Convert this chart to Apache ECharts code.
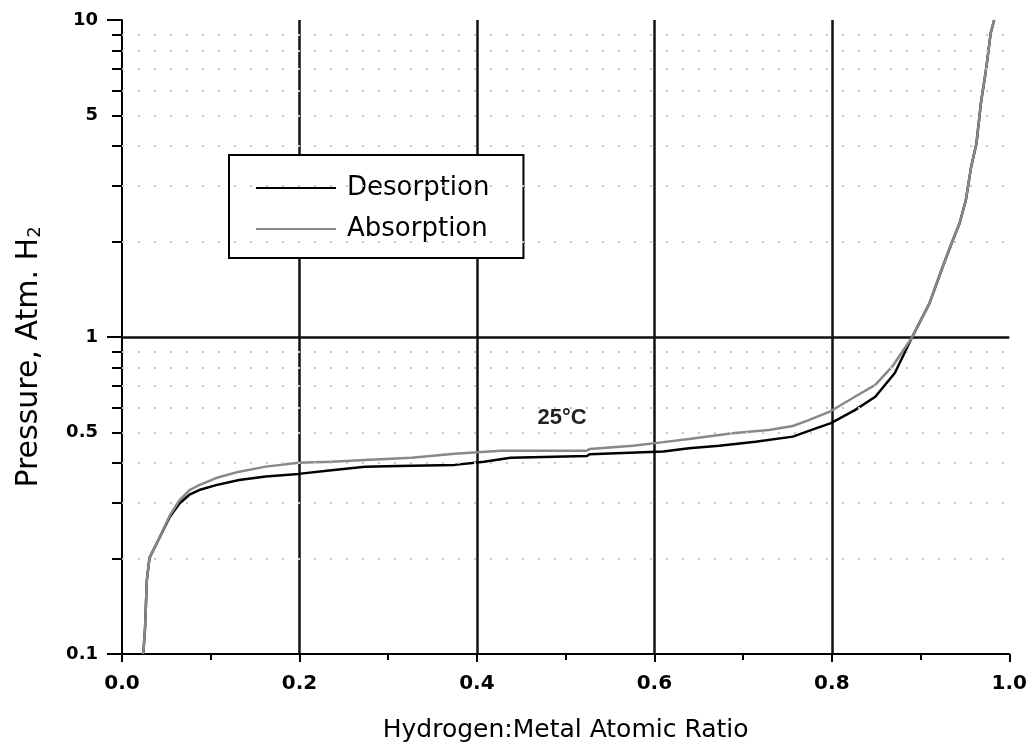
<!DOCTYPE html>
<html>
<head>
<meta charset="utf-8">
<script src="https://cdn.jsdelivr.net/npm/echarts@6/dist/echarts.min.js"></script>
<style>
html,body{margin:0;padding:0;background:#fff;}
#c{width:1030px;height:754px;}
</style>
</head>
<body>
<div id="c"></div>
<script>
// ---- data ----
const seriesNames = ['Desorption', 'Absorption'];

const desorptionX = [0.024, 0.026, 0.028, 0.031, 0.041, 0.054, 0.065, 0.076, 0.087, 0.106, 0.132, 0.162, 0.199, 0.236, 0.274, 0.311, 0.375, 0.408, 0.438, 0.524, 0.527, 0.610, 0.639, 0.673, 0.714, 0.756, 0.782, 0.799, 0.826, 0.849, 0.871, 0.890, 0.910, 0.925, 0.935, 0.944, 0.951, 0.957, 0.963, 0.968, 0.974, 0.979, 0.983];
const desorptionY = [0.100, 0.121, 0.171, 0.201, 0.229, 0.271, 0.299, 0.318, 0.329, 0.341, 0.354, 0.363, 0.370, 0.380, 0.390, 0.392, 0.395, 0.404, 0.416, 0.421, 0.427, 0.435, 0.446, 0.454, 0.467, 0.485, 0.515, 0.535, 0.588, 0.648, 0.770, 0.993, 1.277, 1.666, 1.975, 2.284, 2.70, 3.44, 4.08, 5.46, 7.04, 9.08, 10.0];

const absorptionX = [0.024, 0.026, 0.028, 0.031, 0.041, 0.054, 0.065, 0.076, 0.087, 0.106, 0.132, 0.162, 0.199, 0.236, 0.274, 0.326, 0.375, 0.427, 0.524, 0.527, 0.576, 0.610, 0.639, 0.688, 0.729, 0.756, 0.774, 0.799, 0.826, 0.849, 0.868, 0.890, 0.910, 0.925, 0.935, 0.944, 0.951, 0.957, 0.963, 0.968, 0.974, 0.979, 0.983];
const absorptionY = [0.100, 0.121, 0.171, 0.201, 0.229, 0.274, 0.306, 0.329, 0.341, 0.359, 0.376, 0.390, 0.401, 0.404, 0.409, 0.416, 0.428, 0.438, 0.438, 0.443, 0.454, 0.466, 0.477, 0.497, 0.509, 0.524, 0.547, 0.584, 0.648, 0.706, 0.806, 0.993, 1.277, 1.666, 1.975, 2.284, 2.70, 3.44, 4.08, 5.46, 7.04, 9.08, 10.0];

const yLabelValues = [0.1, 0.5, 1, 5, 10];
const yMinorValues = [0.2, 0.3, 0.4, 0.5, 0.6, 0.7, 0.8, 0.9, 2, 3, 4, 5, 6, 7, 8, 9];
const annotationText = '25°C';
const annotationAt = [0.496, 0.555];

// ---- build ----
const pairs = (xs, ys) => xs.map((x, i) => [x, ys[i]]);
const chart = echarts.init(document.getElementById('c'));

const option = {
  animation: false,
  backgroundColor: '#fff',
  grid: { left: 122, right: 15, top: 20, bottom: 100 },
  legend: {
    data: seriesNames,
    orient: 'vertical',
    left: 229, top: 155,
    icon: 'rect',
    itemWidth: 80, itemHeight: 2, itemGap: 15,
    padding: [20, 34, 16, 27],
    borderColor: '#000', borderWidth: 2, backgroundColor: '#fff',
    textStyle: { fontFamily: 'DejaVu Sans', fontSize: 26, color: '#000', padding: [0, 0, 0, 6] },
    selectedMode: false
  },
  xAxis: {
    type: 'value', min: 0, max: 1, interval: 0.2,
    name: 'Hydrogen:Metal Atomic Ratio', nameLocation: 'middle', nameGap: 64,
    nameTextStyle: { fontFamily: 'DejaVu Sans', fontSize: 25, color: '#000' },
    axisLine: { show: true, onZero: false, lineStyle: { color: '#000', width: 2 } },
    axisTick: { show: true, length: 8, lineStyle: { color: '#000', width: 2 } },
    minorTick: { show: true, splitNumber: 2, length: 6, lineStyle: { color: '#000', width: 2 } },
    axisLabel: { margin: 20, fontFamily: 'DejaVu Sans', fontWeight: 'bold', fontSize: 20, color: '#000',
                 showMinLabel: true, showMaxLabel: true, formatter: v => v.toFixed(1) },
    splitLine: { show: true, showMinLine: false, showMaxLine: false, lineStyle: { color: '#111', width: 2.5 } }
  },
  yAxis: [{
    type: 'log', logBase: 10, min: 0.1, max: 10,
    name: 'Pressure, Atm. H{s|2}', nameLocation: 'middle', nameGap: 78, nameRotate: 90,
    nameTextStyle: { fontFamily: 'DejaVu Sans', fontSize: 30, color: '#000', padding: [0, 40, 0, 0],
      rich: { s: { fontFamily: 'DejaVu Sans', fontSize: 18, color: '#000', padding: [11, 0, 0, 0], verticalAlign: 'bottom' } } },
    axisLine: { show: true, onZero: false, lineStyle: { color: '#000', width: 2 } },
    axisTick: { show: true, length: 15, lineStyle: { color: '#000', width: 2 } },
    axisLabel: { customValues: yLabelValues, margin: 24, fontFamily: 'DejaVu Sans', fontWeight: 'bold', fontSize: 18, color: '#000',
                 formatter: v => String(+(+v).toPrecision(3)) },
    splitLine: { show: true, showMinLine: false, showMaxLine: false, lineStyle: { color: '#111', width: 2.5 } }
  }, {
    type: 'log', logBase: 10, min: 0.1, max: 10, position: 'left',
    axisLine: { show: false },
    axisTick: { show: true, customValues: yMinorValues, length: 10, lineStyle: { color: '#000', width: 2 } },
    axisLabel: { show: false },
    splitLine: { show: false }
  }],
  series: [
    {
      name: 'gridDots', type: 'line', data: [], z: 1, silent: true,
      markLine: {
        silent: true, symbol: ['none', 'none'], label: { show: false },
        lineStyle: { color: '#c8c8c8', type: [2, 14], width: 2 },
        data: yMinorValues.map(v => ({ yAxis: v }))
      }
    },
    {
      name: seriesNames[0], type: 'line', data: pairs(desorptionX, desorptionY),
      symbol: 'none', smooth: false, z: 3,
      lineStyle: { color: '#000', width: 2.5 }, itemStyle: { color: '#000' },
      markPoint: {
        symbol: 'circle', symbolSize: 0, silent: true,
        label: { show: true, formatter: annotationText, fontFamily: 'Liberation Sans', fontWeight: 'bold', fontSize: 22, color: '#222', position: 'inside' },
        data: [{ coord: annotationAt }]
      }
    },
    {
      name: seriesNames[1], type: 'line', data: pairs(absorptionX, absorptionY),
      symbol: 'none', smooth: false, z: 4,
      lineStyle: { color: '#888', width: 2.5 }, itemStyle: { color: '#888' }
    }
  ]
};
chart.setOption(option);
</script>
</body>
</html>
